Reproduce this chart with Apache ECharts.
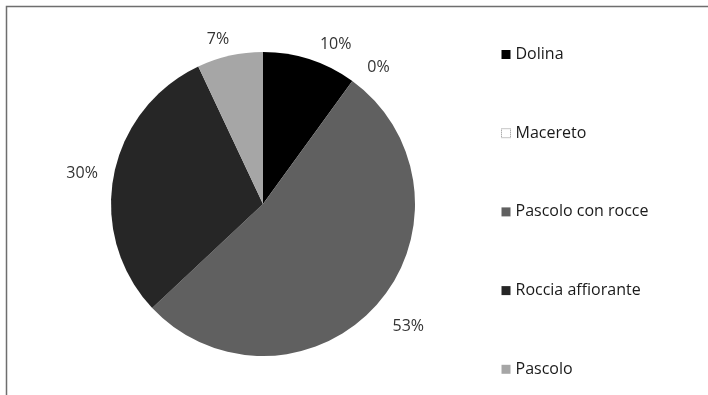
<!DOCTYPE html>
<html>
<head>
<meta charset="utf-8">
<script src="https://cdn.jsdelivr.net/npm/echarts@6/dist/echarts.min.js"></script>
<style>
  html, body { margin: 0; padding: 0; background: #fff; }
  #chart { width: 708px; height: 395px; }
</style>
</head>
<body>
<div id="chart"></div>
<script>
// Land-cover categories and their share (%)
const categories = ['Dolina', 'Macereto', 'Pascolo con rocce', 'Roccia affiorante', 'Pascolo'];
const shares = [10, 0, 53, 30, 7];
const sliceColors = ['#000000', '#ffffff', '#606060', '#262626', '#a6a6a6'];
// distance of each percentage label from the rim
const labelGap = [16, 17, 14, 11, 17];

const chart = echarts.init(document.getElementById('chart'), null, { renderer: 'canvas' });

const FONT = '"Open Sans", "Liberation Sans", sans-serif';

// small per-slice nudges for the percentage labels (pixels)
const labelShift = [
  { dx: 0, dy: 0 },
  { dx: 0, dy: 0 },
  { dx: 0, dy: 13 },
  { dx: 0, dy: 0 },
  { dx: 8, dy: 0 }
];

chart.setOption({
  animation: false,
  backgroundColor: '#ffffff',
  graphic: [{
    type: 'rect',
    shape: { x: 6.5, y: 6.5, width: 760, height: 460 },
    style: { fill: 'none', stroke: '#6e6e6e', lineWidth: 1.5 },
    silent: true
  }],
  legend: {
    orient: 'vertical',
    left: 496,
    top: 41,
    itemWidth: 9,
    itemHeight: 9,
    itemGap: 61.7,
    icon: 'rect',
    textStyle: { fontFamily: FONT, fontSize: 16, color: '#1a1a1a', lineHeight: 17 },
    data: categories.map((name, i) => i === 1
      ? { name, itemStyle: { color: '#ffffff', borderColor: '#8a8a8a', borderWidth: 1, borderType: 'dotted' } }
      : { name })
  },
  series: [{
    type: 'pie',
    center: [263, 204],
    radius: 152,
    startAngle: 90,
    clockwise: true,
    avoidLabelOverlap: false,
    stillShowZeroSum: true,
    label: {
      show: true,
      position: 'outside',
      formatter: '{d}%',
      fontFamily: FONT,
      fontSize: 16,
      color: '#333333'
    },
    labelLine: { show: false, length: 16, length2: 0 },
    labelLayout: (params) => labelShift[params.dataIndex],
    itemStyle: { borderWidth: 0 },
    emphasis: { disabled: true },
    data: categories.map((name, i) => ({
      name,
      value: shares[i],
      itemStyle: { color: sliceColors[i] },
      labelLine: { show: false, length: labelGap[i], length2: 0 }
    }))
  }]
});
</script>
</body>
</html>
